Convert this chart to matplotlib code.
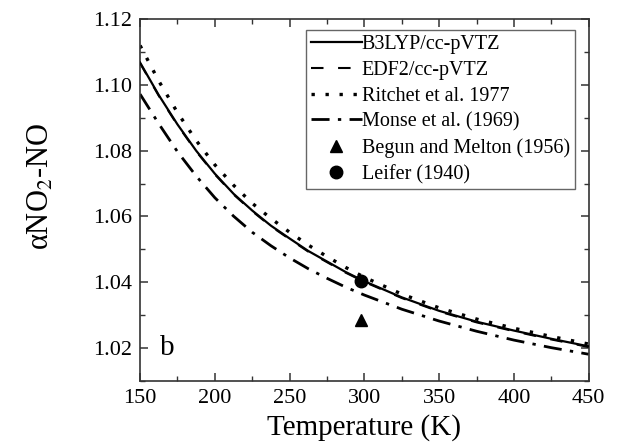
import matplotlib
matplotlib.use('Agg')
import matplotlib.pyplot as plt
import numpy as np

plt.rcParams['font.family'] = ['Liberation Serif', 'DejaVu Serif']
plt.rcParams['mathtext.fontset'] = 'stix'

# data (denser where the curves bend most)
temp = [150, 162.5, 175, 187.5, 200, 212.5, 225, 237.5, 250, 262.5, 275, 287.5, 300,
        325, 350, 375, 400, 425, 450]
b3lyp = [1.1068, 1.0969, 1.0880, 1.0800, 1.0730, 1.0669, 1.0618, 1.0572, 1.0533, 1.0495,
         1.0463, 1.0431, 1.0403, 1.0354, 1.0313, 1.0280, 1.0253, 1.0228, 1.0205]
edf2 = [1.1066, 1.0967, 1.0878, 1.0798, 1.0728, 1.0667, 1.0616, 1.0570, 1.0531, 1.0493,
        1.0461, 1.0429, 1.0401, 1.0352, 1.0311, 1.0278, 1.0251, 1.0226, 1.0203]
ritchet = [1.1120, 1.1012, 1.0916, 1.0831, 1.0757, 1.0695, 1.0640, 1.0594, 1.0552, 1.0513,
           1.0478, 1.0445, 1.0415, 1.0364, 1.0322, 1.0288, 1.0260, 1.0235, 1.0212]
monse = [1.0972, 1.0882, 1.0797, 1.0723, 1.0657, 1.0601, 1.0552, 1.0511, 1.0474, 1.0441,
         1.0412, 1.0385, 1.0361, 1.0318, 1.0282, 1.0251, 1.0224, 1.0201, 1.0181]

begun_t, begun_a = [298], [1.0285]
leifer_t, leifer_a = [298], [1.0404]

fig = plt.figure(figsize=(6.31, 4.46), dpi=100)
ax = fig.add_axes([0.222, 0.146, 0.711, 0.811])

ax.plot(temp, edf2, color='black', lw=1.5, linestyle=(0, (6, 7)), label='EDF2/cc-pVTZ', zorder=2)
ax.plot(temp, b3lyp, color='black', lw=1.6, label='B3LYP/cc-pVTZ', zorder=3)
ax.plot(temp, ritchet, color='black', lw=2.4, linestyle=(0, (1.0, 3.2)), label='Ritchet et al. 1977')
ax.plot(temp, monse, color='black', lw=2.0, linestyle=(0, (6.5, 3.0, 1.2, 3.0)), label='Monse et al. (1969)')
ax.plot(begun_t, begun_a, '^', color='black', ms=9, ls='none', label='Begun and Melton (1956)')
ax.plot(leifer_t, leifer_a, 'o', color='black', ms=9, ls='none', label='Leifer (1940)')

ax.set_xlim(150, 450)
ax.set_ylim(1.01, 1.12)
ax.set_xticks(np.arange(150, 451, 50))
ax.set_xticks(np.arange(150, 451, 25), minor=True)
ax.set_yticks([1.02, 1.04, 1.06, 1.08, 1.10, 1.12])
ax.set_yticks(np.arange(1.01, 1.121, 0.01), minor=True)
ax.set_yticklabels(['1.02', '1.04', '1.06', '1.08', '1.10', '1.12'])

ax.tick_params(which='both', direction='in', top=True, right=True, labelsize=16, color='#333333')
ax.tick_params(which='major', length=6, width=1.1, pad=6)
ax.tick_params(which='minor', length=3.5, width=1.0)
for sp in ax.spines.values():
    sp.set_linewidth(1.2)
    sp.set_color('#333333')

ax.set_xlabel('Temperature (K)', fontsize=21, labelpad=4)
# y label drawn as figure text so the subscript keeps its size
fig.text(41 / 631, 1 - 186 / 446, 'αNO$_2$-NO', fontsize=22,
         rotation=90, ha='center', va='center')

ax.text(163, 1.02, 'b', fontsize=21, va='center', ha='left')

handles, labels = ax.get_legend_handles_labels()
order = [1, 0, 2, 3, 4, 5]
leg = ax.legend([handles[i] for i in order], [labels[i] for i in order],
                loc='upper right', bbox_to_anchor=(0.969, 0.97), fontsize=14.5,
                handlelength=2.5, handletextpad=0.0, labelspacing=0.33,
                borderpad=0.25, borderaxespad=0.0, fancybox=False, framealpha=1)
leg.get_frame().set_edgecolor('#666666')
leg.get_frame().set_linewidth(1.0)

fig.savefig('out.png', dpi=100)
